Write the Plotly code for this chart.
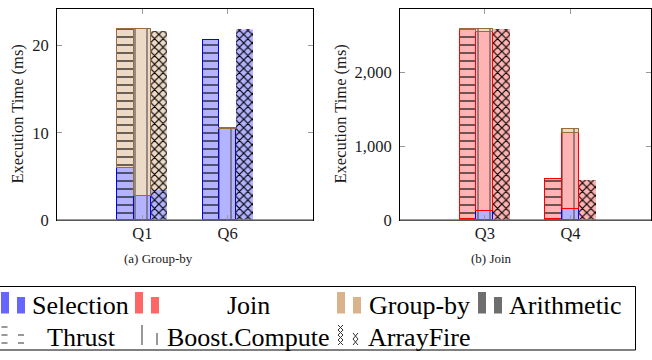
import plotly.graph_objects as go

W, H = 652, 360

# ---------------- data ----------------
queries_a = ["Q1", "Q6"]
queries_b = ["Q3", "Q4"]
libraries = ["Thrust", "Boost.Compute", "ArrayFire"]
operations = ["Selection", "Join", "Group-by", "Arithmetic"]

# panel (a) Group-by, ms
a_selection = {"Thrust": [6.0, 20.7], "Boost.Compute": [2.75, 10.4], "ArrayFire": [3.45, 21.8]}
a_groupby = {"Thrust": [15.9, 0.0], "Boost.Compute": [19.15, 0.2], "ArrayFire": [18.25, 0.1]}

# panel (b) Join, ms
b_selection = {"Thrust": [10, 10], "Boost.Compute": [127, 149], "ArrayFire": [0, 0]}
b_join = {"Thrust": [2559, 541], "Boost.Compute": [2410, 1034], "ArrayFire": [2582, 547]}
b_groupby = {"Thrust": [13, 0], "Boost.Compute": [45, 41], "ArrayFire": [0, 0]}

a_yticks = [0, 10, 20]
b_yticks = [0, 1000, 2000]

# ---------------- styles ----------------
light = {"Selection": "#b3b3ff", "Join": "#ffb3b3", "Group-by": "#ecd9c6", "Arithmetic": "#b3b3b3"}
edge = {"Selection": "#0000ff", "Join": "#ff0000", "Group-by": "#9c6b3c", "Arithmetic": "#444444"}
swatch = {"Selection": "#6666ff", "Join": "#ff6666", "Group-by": "#d9b38c", "Arithmetic": "#6e6e6e"}
offsets = {"Thrust": -0.195, "Boost.Compute": 0.0, "ArrayFire": 0.195}
BW = 0.195
SERIF = "'Liberation Serif', 'Times New Roman', Times, serif"


def pattern_for(lib, op):
    if lib == "Thrust":
        return dict(shape="-", fgcolor="#000000", bgcolor=light[op], size=8, solidity=0.14, fillmode="replace")
    if lib == "Boost.Compute":
        return dict(shape="|", fgcolor="#555555", bgcolor=light[op], size=12, solidity=0.1, fillmode="replace")
    return dict(shape="x", fgcolor="#000000", bgcolor=light[op], size=6, solidity=0.35, fillmode="replace")


fig = go.Figure()


def add_panel(xa, ya, series):
    for lib in libraries:
        for op, vals in series:
            v = [val if val > 0 else None for val in vals[lib]]
            xs = [i + offsets[lib] for i in range(len(v))]
            fig.add_trace(go.Bar(
                x=xs, y=v, width=BW, xaxis=xa, yaxis=ya, showlegend=False,
                marker=dict(color=light[op], pattern=pattern_for(lib, op),
                            line=dict(color=edge[op], width=0 if lib == "ArrayFire" else 1.4)),
                name=f"{lib} {op}"))


add_panel("x", "y", [("Selection", a_selection), ("Group-by", a_groupby)])
add_panel("x2", "y2", [("Selection", b_selection), ("Join", b_join), ("Group-by", b_groupby)])

yd = [1 - 220 / H, 1 - 9 / H]
axis_common = dict(showline=True, linecolor="#000000", linewidth=1, mirror="ticks",
                   ticks="inside", ticklen=5, tickcolor="#999999", showgrid=False,
                   zeroline=False, layer="above traces", automargin=False,
                   tickfont=dict(family=SERIF, size=16.5, color="#1a1a1a"))

fig.update_layout(
    width=W, height=H, autosize=False, barmode="stack", bargap=0,
    margin=dict(l=0, r=0, t=0, b=0, pad=0),
    paper_bgcolor="white", plot_bgcolor="white",
    font=dict(family=SERIF),
    xaxis=dict(domain=[57 / W, 313 / W], range=[-1, 2], tickvals=[0, 1], ticktext=queries_a,
               ticklabelstandoff=-2, **axis_common),
    yaxis=dict(domain=yd, range=[0, 24.2], tickvals=a_yticks, ticklabelstandoff=4, **axis_common),
    xaxis2=dict(domain=[400 / W, 651 / W], range=[-0.99, 1.94], tickvals=[0, 1], ticktext=queries_b,
                anchor="y2", ticklabelstandoff=-2, **axis_common),
    yaxis2=dict(domain=yd, range=[0, 2853], tickvals=b_yticks, tickformat=",d", anchor="x2",
                ticklabelstandoff=4, **axis_common),
)

shapes = []
# grey baseline at y=0 in each panel
for xr, yr in (("x domain", "y domain"), ("x2 domain", "y2 domain")):
    shapes.append(dict(type="line", xref=xr, yref=yr, x0=0, x1=1, y0=0, y1=0,
                       line=dict(color="#777777", width=1.6), layer="above"))

annotations = []
# axis titles and captions
for xpx in (17, 340):
    annotations.append(dict(text="Execution Time (ms)", x=xpx / W, y=1 - 114.5 / H, xref="paper", yref="paper",
                            textangle=-90, showarrow=False, xanchor="center", yanchor="middle",
                            font=dict(family=SERIF, size=16.5, color="#1a1a1a")))
for txt, xpx in (("(a) Group-by", 158), ("(b) Join", 491)):
    annotations.append(dict(text=txt, x=xpx / W, y=1 - 258 / H, xref="paper", yref="paper",
                            showarrow=False, xanchor="center", yanchor="middle",
                            font=dict(family=SERIF, size=13, color="#1a1a1a")))


def px(x):
    return x / W


def py(y):
    return 1 - y / H


# legend box
shapes.append(dict(type="rect", xref="paper", yref="paper", x0=px(-1), x1=px(635.5), y0=py(350), y1=py(286.5),
                   line=dict(color="#000000", width=1)))

# legend row 1: operations (colour swatches)
op_cols = [("Selection", 1, 80), ("Join", 135, 248), ("Group-by", 337, 420), ("Arithmetic", 478, 565)]
for op, x0, tc in op_cols:
    shapes.append(dict(type="rect", xref="paper", yref="paper", x0=px(x0), x1=px(x0 + 8), y0=py(313.5), y1=py(292),
                       fillcolor=swatch[op], line=dict(width=0)))
    shapes.append(dict(type="rect", xref="paper", yref="paper", x0=px(x0 + 16), x1=px(x0 + 24), y0=py(313.5),
                       y1=py(297), fillcolor=swatch[op], line=dict(width=0)))
    annotations.append(dict(text=op, x=px(tc), y=py(305.5), xref="paper", yref="paper", showarrow=False,
                            xanchor="center", yanchor="middle", font=dict(family=SERIF, size=26, color="#000000")))

# legend row 2: libraries (pattern symbols)
lib_cols = [("Thrust", 81), ("Boost.Compute", 248), ("ArrayFire", 420)]
for lib, tc in lib_cols:
    annotations.append(dict(text=lib, x=px(tc), y=py(337.5), xref="paper", yref="paper", showarrow=False,
                            xanchor="center", yanchor="middle", font=dict(family=SERIF, size=26, color="#000000")))

sym = dict(color="#333333", width=1)
for yy in (327, 335, 343):
    shapes.append(dict(type="line", xref="paper", yref="paper", x0=px(1.5), x1=px(7.5), y0=py(yy), y1=py(yy), line=sym))
for yy in (335, 343):
    shapes.append(dict(type="line", xref="paper", yref="paper", x0=px(18), x1=px(24), y0=py(yy), y1=py(yy), line=sym))
shapes.append(dict(type="line", xref="paper", yref="paper", x0=px(142), x1=px(142), y0=py(325), y1=py(345), line=sym))
shapes.append(dict(type="line", xref="paper", yref="paper", x0=px(157), x1=px(157), y0=py(333), y1=py(345), line=sym))


def zig(xa, xb, ys):
    p1 = "M" + " L".join(f"{px(xa if k % 2 == 0 else xb)},{py(y)}" for k, y in enumerate(ys))
    p2 = "M" + " L".join(f"{px(xb if k % 2 == 0 else xa)},{py(y)}" for k, y in enumerate(ys))
    return p1 + " " + p2


shapes.append(dict(type="path", xref="paper", yref="paper", path=zig(338, 343, [325, 330, 335, 340, 345]), line=sym))
shapes.append(dict(type="path", xref="paper", yref="paper", path=zig(353, 358, [333, 339, 345]), line=sym))

fig.update_layout(shapes=shapes, annotations=annotations)
fig.write_html(
    "out.html",
    config={"responsive": False, "displayModeBar": False},
    post_script="document.body.style.margin='0';document.body.style.overflow='hidden';",
)
